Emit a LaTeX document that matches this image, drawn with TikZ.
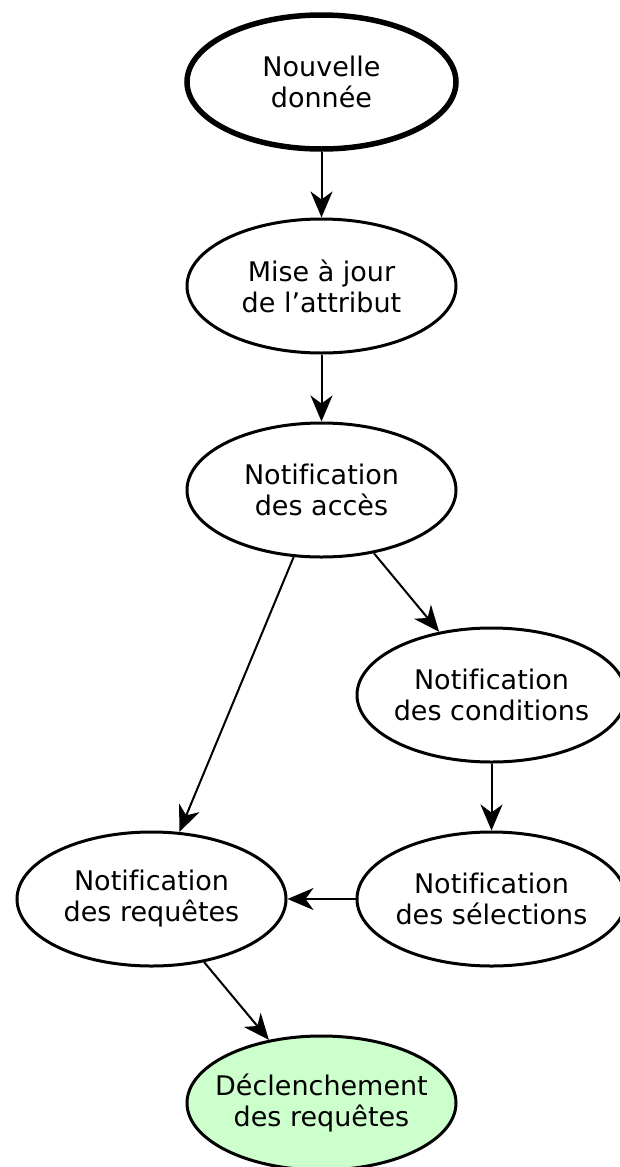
\documentclass[tikz,border=0pt]{standalone}
\usepackage{fontspec}
\setmainfont{DejaVu Sans}[Ligatures=NoCommon]
\usetikzlibrary{positioning}
\usetikzlibrary{shapes.geometric}
\usetikzlibrary{arrows.meta}

\begin{document}
\begin{tikzpicture}[x=1pt, y=1pt, node distance=204pt, on grid,
stepnode/.style={ellipse, draw=black, fill=white, line width=3pt, minimum width=269pt, minimum height=134pt, inner sep=0pt, inner xsep=-30pt, align=center, font=\fontsize{27}{31}\selectfont},
startnode/.style={stepnode, line width=5.5pt},
endnode/.style={stepnode, fill=green!20},
arrow/.style={-{Stealth[length=26pt, width=22pt, inset=8pt]}, line width=2pt}]
\useasboundingbox (0,0) rectangle (619,-1167);
\node[startnode] (nouv) at (321.5,-82) {Nouvelle\\donnée};
\node[stepnode] (maj) [below=of nouv] {Mise à jour\\de l’attribut};
\node[stepnode] (acces) [below=of maj] {Notification\\des accès};
\node[stepnode] (cond) [below right=205pt and 170pt of acces] {Notification\\des conditions};
\node[stepnode] (sel) [below=of cond] {Notification\\des sélections};
\node[stepnode] (req) [left=340pt of sel] {Notification\\des requêtes};
\node[endnode] (decl) [below right=204pt and 170pt of req] {Déclenchement\\des requêtes};

\draw[arrow] (nouv) -- (maj);
\draw[arrow] (maj) -- (acces);
\draw[arrow] (acces) -- (cond);
\draw[arrow] (acces) -- (req);
\draw[arrow] (cond) -- (sel);
\draw[arrow] (sel) -- (req);
\draw[arrow] (req) -- (decl);
\end{tikzpicture}
\end{document}
